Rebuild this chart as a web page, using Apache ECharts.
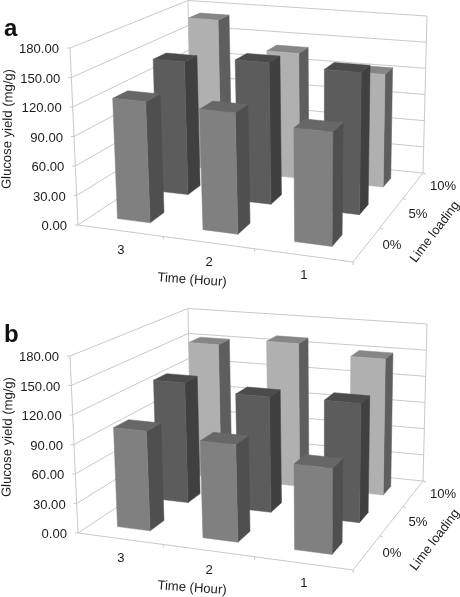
<!DOCTYPE html>
<html><head><meta charset="utf-8">
<style>html,body{margin:0;padding:0;background:#fff}#c{width:460px;height:597px}</style>
<script src="https://cdn.jsdelivr.net/npm/echarts@6/dist/echarts.min.js"></script>
</head><body><div id="c"></div>
<script>
// ---- data ----
const timeLabels = ['3', '2', '1'];
const limeLabels = ['0%', '5%', '10%'];
const yTicks = [0, 30, 60, 90, 120, 150, 180];
const panelA0 = [124, 122, 113];
const panelA5 = [144, 151, 149];
const panelA10 = [172, 141, 125];
const panelB0 = [102, 98, 85];
const panelB5 = [130, 123, 125];
const panelB10 = [153, 161, 151];
const yName = 'Glucose yield (mg/g)';
const xName = 'Time (Hour)';
const zName = 'Lime loading';

// ---- projection of the box, relative to the top of panel a ----
const FLOOR = [[78, 225], [353, 262], [423, 173], [191, 150]];
const CEIL = [[70, 48], [356, 75], [427, 16], [188, 0.5]];
const BASE_TOP = 48;
const BAR_W = 0.39, BAR_D = 0.35;
const FACE = [
  {front: '#808080', side: '#4f4f4f', top: '#676767'},
  {front: '#5c5c5c', side: '#404040', top: '#4b4b4b'},
  {front: '#b0b0b0', side: '#5e5e5e', top: '#868686'}
];
const LINE = '#c9c9c9', INK = '#1c1c1c', FONT = 'Liberation Sans', FS = 13.1;

function homography(q) {
  const [x0, y0] = q[0], [x1, y1] = q[1], [x2, y2] = q[2], [x3, y3] = q[3];
  const dx1 = x1 - x2, dx2 = x3 - x2, sx = x0 - x1 + x2 - x3;
  const dy1 = y1 - y2, dy2 = y3 - y2, sy = y0 - y1 + y2 - y3;
  const den = dx1 * dy2 - dx2 * dy1;
  const g = (sx * dy2 - dx2 * sy) / den, h = (dx1 * sy - sx * dy1) / den;
  const a = x1 - x0 + g * x1, b = x3 - x0 + h * x3, d = y1 - y0 + g * y1, e = y3 - y0 + h * y3;
  return (u, v) => {
    const w = g * u + h * v + 1;
    return [(a * u + b * v + x0) / w, (d * u + e * v + y0) / w];
  };
}
const floorH = homography(FLOOR), ceilH = homography(CEIL);
// u along time, v along lime loading, w up the value axis (all 0..1)
function project(cs, u, v, w) {
  const f = floorH(u, v), c = ceilH(u, v), dy = cs.y - BASE_TOP;
  return [f[0] + (c[0] - f[0]) * w, f[1] + (c[1] - f[1]) * w + dy];
}
const norm = (cs, pt) => [(pt[0] - cs.x) / cs.width, (cs.y + cs.height - pt[1]) / cs.height];

function txt(text, x, y, o) {
  o = o || {};
  return {
    type: 'text', x, y, rotation: o.rot || 0, silent: true,
    style: {text, x: 0, y: 0, fill: INK, fontFamily: FONT, fontSize: o.size || FS,
      align: o.align || 'center', verticalAlign: 'middle'}
  };
}
function seg(a, b, color) {
  return {type: 'line', silent: true, shape: {x1: a[0], y1: a[1], x2: b[0], y2: b[1]},
    style: {stroke: color || LINE, lineWidth: 1, fill: null}};
}

// value gridlines on both walls + value tick labels + frame
function renderTick(params, api) {
  const cs = params.coordSys, val = api.value(0);
  const w = norm(cs, api.coord([0, val]))[1];
  const p0 = project(cs, 0, 0, w), p1 = project(cs, 0, 1, w), p2 = project(cs, 1, 1, w);
  const kids = [seg(p0, p1), seg(p1, p2), seg([p0[0] - 3, p0[1]], p0),
    txt(val.toFixed(2), p0[0] - 11, p0[1] + 1.5, {align: 'right'})];
  if (params.dataIndex === 0) {
    const q = project(cs, 1, 0, 0), c0 = project(cs, 0, 0, 1), c1 = project(cs, 0, 1, 1), c2 = project(cs, 1, 1, 1);
    kids.push(seg(p0, q), seg(q, p2), seg(p0, c0), seg(p1, c1), seg(p2, c2));
  }
  return {type: 'group', children: kids};
}
// time axis ticks and labels
function renderTime(params, api) {
  const cs = params.coordSys, i = api.value(0);
  const c = norm(cs, api.coord([i, 0]))[0];
  const a = project(cs, c, 0, 0), t = project(cs, c + 1 / 6, 0, 0);
  const kids = [txt(timeLabels[i], a[0] + 1, a[1] + 20)];
  kids.push(seg(t, [t[0], t[1] + 3]));
  return {type: 'group', children: kids};
}
// lime axis ticks and labels
function renderLime(params, api) {
  const cs = params.coordSys, i = api.value(0), v = (i + 0.5) / limeLabels.length;
  const a = project(cs, 1, v, 0), t = project(cs, 1, (i + 1) / limeLabels.length, 0);
  return {type: 'group', children: [
    txt(limeLabels[i], a[0] + 25 + i * i * 1.2, a[1] + 1.5),
    seg(t, [t[0] + 3, t[1] + 1])
  ]};
}
// axis titles
function renderNames(params) {
  const cs = params.coordSys;
  const dy = cs.y - BASE_TOP;
  return {type: 'group', children: [
    txt(yName, 8, 129 + dy, {rot: Math.PI / 2 - 0.02}),
    txt(xName, 192, 280 + dy, {rot: -0.07}),
    txt(zName, 435, 232 + dy, {rot: 0.92, size: 12.9})
  ]};
}
// one 3-D bar
function renderBar(params, api) {
  const cs = params.coordSys;
  const lime = api.value(1);
  const base = norm(cs, api.coord([api.value(0), 0]));
  const top = norm(cs, api.coord([api.value(0), api.value(2)]));
  const u0 = base[0] - BAR_W / 6, u1 = base[0] + BAR_W / 6;
  const vc = (lime + 0.5) / limeLabels.length;
  const v0 = vc - BAR_D / 6, v1 = vc + BAR_D / 6, w = top[1];
  const P = (u, v, h) => project(cs, u, v, h);
  const col = FACE[lime];
  const poly = (pts, c) => ({type: 'polygon', silent: true, shape: {points: pts},
    style: {fill: c, stroke: c, lineWidth: 0.5}});
  return {type: 'group', children: [
    poly([P(u1, v0, 0), P(u1, v1, 0), P(u1, v1, w), P(u1, v0, w)], col.side),
    poly([P(u0, v0, w), P(u1, v0, w), P(u1, v1, w), P(u0, v1, w)], col.top),
    poly([P(u0, v0, 0), P(u1, v0, 0), P(u1, v0, w), P(u0, v0, w)], col.front)
  ]};
}

function barData(rows) {
  const out = [];
  for (let l = rows.length - 1; l >= 0; l--)
    rows[l].forEach((val, t) => out.push([t, l, val]));
  return out;
}
function panelSeries(g, rows) {
  const common = {type: 'custom', coordinateSystem: 'cartesian2d', xAxisIndex: g, yAxisIndex: g,
    clip: false, animation: false, silent: true};
  return [
    {...common, name: 'grid', renderItem: renderTick, data: yTicks.map(v => [v]), encode: {x: -1, y: 0}, z: 1},
    {...common, name: 'time', renderItem: renderTime, data: timeLabels.map((_, i) => [i]), encode: {x: 0, y: -1}, z: 1},
    {...common, name: 'lime', renderItem: renderLime, data: limeLabels.map((_, i) => [i]), encode: {x: 0, y: -1}, z: 1},
    {...common, name: 'names', renderItem: renderNames, data: [[0]], encode: {x: 0, y: -1}, z: 1},
    {...common, name: 'bars', renderItem: renderBar, data: barData(rows), encode: {x: 0, y: 2}, z: 2}
  ];
}

const chart = echarts.init(document.getElementById('c'));
const gridTops = [48, 356];
chart.setOption({
  backgroundColor: '#fff',
  animation: false,
  title: [
    {text: 'a', left: 4, top: 17, padding: 0, textStyle: {fontFamily: FONT, fontSize: 24, fontWeight: 'bold', color: '#111'}},
    {text: 'b', left: 4, top: 323, padding: 0, textStyle: {fontFamily: FONT, fontSize: 24, fontWeight: 'bold', color: '#111'}}
  ],
  grid: gridTops.map(top => ({left: 78, top, width: 275, height: 177})),
  xAxis: gridTops.map((_, i) => ({type: 'category', gridIndex: i, data: timeLabels, show: false})),
  yAxis: gridTops.map((_, i) => ({type: 'value', gridIndex: i, min: 0, max: 180, interval: 30, show: false})),
  series: [
    ...panelSeries(0, [panelA0, panelA5, panelA10]),
    ...panelSeries(1, [panelB0, panelB5, panelB10])
  ]
});
</script></body></html>
